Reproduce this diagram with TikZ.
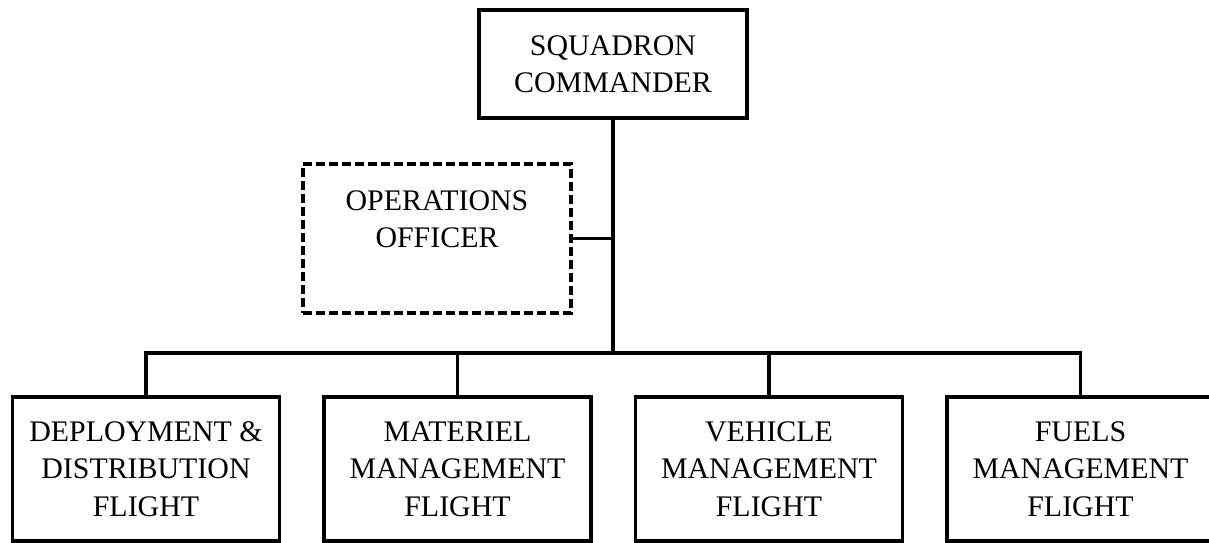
\documentclass[tikz,border=0pt]{standalone}
\usepackage{fontspec}
\setmainfont{Liberation Serif}
\begin{document}
\begin{tikzpicture}[x=1bp,y=-1bp,
  orgbox/.style={draw, line width=3.5bp, inner sep=0pt, outer sep=0pt, align=center,
    font=\fontsize{30}{37.5}\selectfont},
  flightbox/.style={orgbox, minimum width=267bp, minimum height=144bp},
  opsbox/.style={draw, line width=3.5bp, dash pattern=on 9bp off 4bp, inner sep=0pt, outer sep=0pt,
    minimum width=268bp, minimum height=149bp},
  plaintext/.style={align=center, inner sep=0pt, font=\fontsize{30}{37.5}\selectfont},
  link/.style={line width=3.4bp}]
\useasboundingbox (0,0) rectangle (1209,543);
\node[orgbox, minimum width=268bp, minimum height=108bp] (cmd) at (613,64) {SQUADRON\\COMMANDER};
\node[opsbox] (ops) at (437,238.5) {};
\node[plaintext] (opstext) at ([yshift=19.5bp]ops.center) {OPERATIONS\\OFFICER};
\node[flightbox] (dd) at (146,469) {DEPLOYMENT \&\\DISTRIBUTION\\FLIGHT};
\node[flightbox] (mm) at (457.5,469) {MATERIEL\\MANAGEMENT\\FLIGHT};
\node[flightbox] (vm) at (769,469) {VEHICLE\\MANAGEMENT\\FLIGHT};
\node[flightbox] (fm) at (1080.5,469) {FUELS\\MANAGEMENT\\FLIGHT};
\coordinate (hub) at (613,353);
\coordinate (opj) at (613,238.5);
\draw[link] (cmd.south) -- (hub);
\draw[link] (ops.east) -- (opj);
\draw[link, line cap=rect] (dd.north |- hub) -- (fm.north |- hub);
\draw[link] (dd.north |- hub) -- (dd.north);
\draw[link] (mm.north |- hub) -- (mm.north);
\draw[link] (vm.north |- hub) -- (vm.north);
\draw[link] (fm.north |- hub) -- (fm.north);
\end{tikzpicture}
\end{document}
